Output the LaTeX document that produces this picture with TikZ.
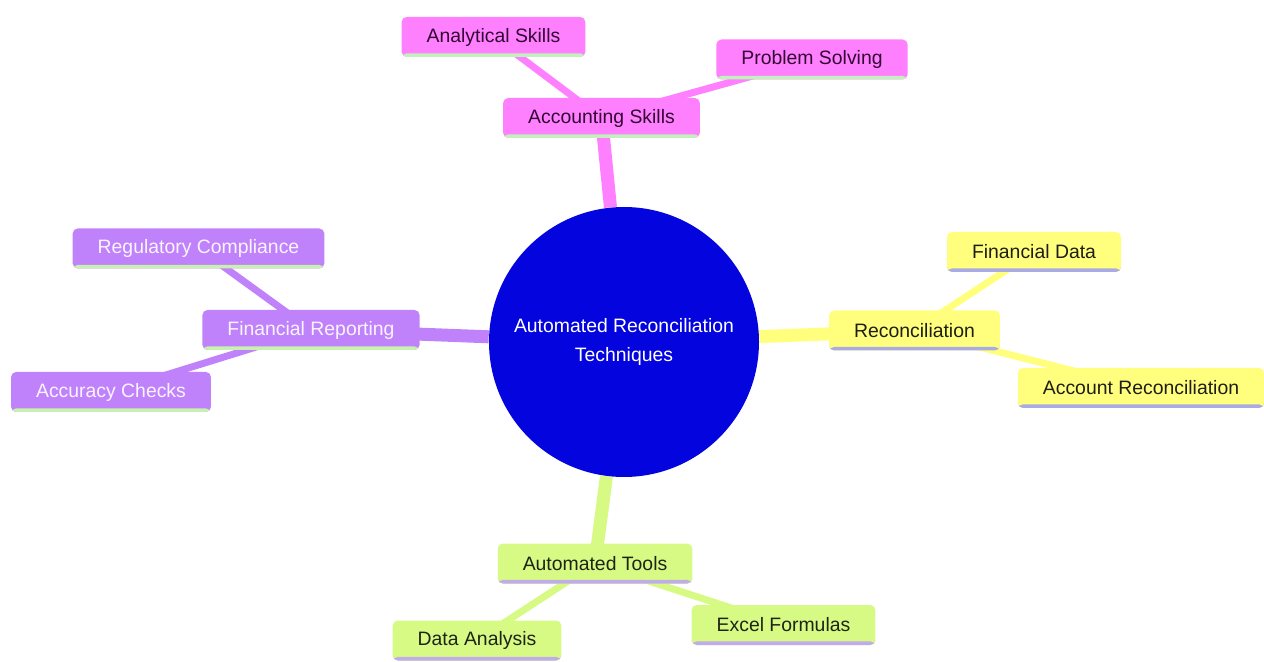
\documentclass[tikz,border=0pt]{standalone}
\usepackage{fontspec}
\setmainfont{Liberation Sans}
\pgfdeclarelayer{bg}
\pgfsetlayers{bg,main}
\definecolor{rootblue}{RGB}{4,4,222}
\definecolor{pinkfill}{RGB}{255,128,255}
\definecolor{pinktext}{RGB}{52,6,52}
\definecolor{pinkbar}{RGB}{196,240,190}
\definecolor{lilacfill}{RGB}{192,130,250}
\definecolor{lilactext}{RGB}{250,244,255}
\definecolor{lilacbar}{RGB}{200,240,175}
\definecolor{lemonfill}{RGB}{255,255,125}
\definecolor{lemontext}{RGB}{30,30,20}
\definecolor{lemonbar}{RGB}{170,170,228}
\definecolor{limefill}{RGB}{215,250,132}
\definecolor{limetext}{RGB}{30,36,20}
\definecolor{limebar}{RGB}{192,172,232}
\tikzset{underbar/.style={path picture={\fill [#1] (path picture bounding box.south west) rectangle ([yshift=1.8pt]path picture bounding box.south east);}}}

\begin{document}
\begin{tikzpicture}[x=5pt,y=5pt]
		\tikzstyle{every node}+=[font=\fontsize{9.7}{14.5}\selectfont]
		\tikzstyle{idea}=[rounded corners=2.5pt, minimum height=20pt, inner xsep=12.5pt, inner ysep=0pt]
		\tikzstyle{pinkidea}=[idea, fill=pinkfill, text=pinktext, underbar=pinkbar]
		\tikzstyle{lilacidea}=[idea, fill=lilacfill, text=lilactext, underbar=lilacbar]
		\tikzstyle{lemonidea}=[idea, fill=lemonfill, text=lemontext, underbar=lemonbar]
		\tikzstyle{limeidea}=[idea, fill=limefill, text=limetext, underbar=limebar]
		\tikzstyle{trunk}=[line width=6.5pt]
		\tikzstyle{twig}=[line width=3.5pt]
		\useasboundingbox (0,0) rectangle (126.4,-66.2);
		\node [circle, fill=rootblue, text=white, minimum size=135pt, align=center] (root) at (62.4,-34.2) {Automated Reconciliation\\Techniques};
		\node [pinkidea] (skills) at (60.15,-11.8) {Accounting Skills};
		\node [pinkidea] (analytical) at (49.35,-3.7) {Analytical Skills};
		\node [pinkidea] (problem) at (81.2,-5.95) {Problem Solving};
		\node [lilacidea] (reporting) at (31.1,-33) {Financial Reporting};
		\node [lilacidea] (regulatory) at (19.85,-24.85) {Regulatory Compliance};
		\node [lilacidea] (accuracy) at (11.1,-39.2) {Accuracy Checks};
		\node [lemonidea] (recon) at (91.45,-33.05) {Reconciliation};
		\node [lemonidea] (findata) at (103.4,-25.2) {Financial Data};
		\node [lemonidea] (accrecon) at (114.1,-38.8) {Account Reconciliation};
		\node [limeidea] (tools) at (59.5,-56.35) {Automated Tools};
		\node [limeidea] (analysis) at (47.7,-64.05) {Data Analysis};
		\node [limeidea] (excel) at (78.35,-62.5) {Excel Formulas};
		\begin{pgfonlayer}{bg}
		\draw [pinkfill, trunk] (root) -- (skills.center);
		\draw [pinkfill, twig] (skills.center) -- (analytical.center);
		\draw [pinkfill, twig] (skills.center) -- (problem.center);
		\draw [lilacfill, trunk] (root) -- (reporting.center);
		\draw [lilacfill, twig] (reporting.center) -- (regulatory.center);
		\draw [lilacfill, twig] (reporting.center) -- (accuracy.center);
		\draw [lemonfill, trunk] (root) -- (recon.center);
		\draw [lemonfill, twig] (recon.center) -- (findata.center);
		\draw [lemonfill, twig] (recon.center) -- (accrecon.center);
		\draw [limefill, trunk] (root) -- (tools.center);
		\draw [limefill, twig] (tools.center) -- (analysis.center);
		\draw [limefill, twig] (tools.center) -- (excel.center);
		\end{pgfonlayer}
\end{tikzpicture}
\end{document}
